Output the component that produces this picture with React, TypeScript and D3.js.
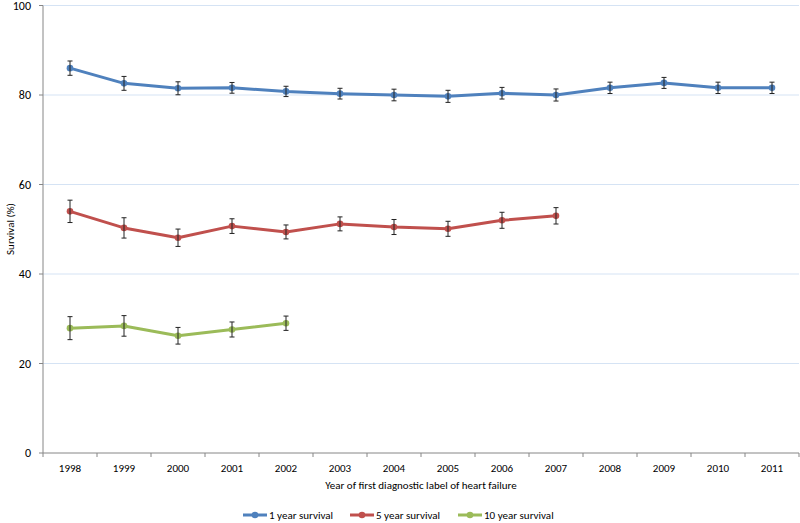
import React from "react";
import * as d3 from "d3";

const years = ["1998","1999","2000","2001","2002","2003","2004","2005","2006","2007","2008","2009","2010","2011"];
const oneYear = [86.0,82.6,81.5,81.6,80.8,80.3,80.0,79.7,80.4,80.0,81.6,82.7,81.6,81.6];
const oneYearErr = [1.6,1.55,1.45,1.2,1.15,1.2,1.3,1.35,1.3,1.35,1.27,1.23,1.27,1.27];
const fiveYear = [54.0,50.3,48.1,50.7,49.4,51.2,50.5,50.1,52.0,53.0];
const fiveYearErr = [2.5,2.27,1.94,1.64,1.56,1.56,1.68,1.68,1.79,1.83];
const tenYear = [27.9,28.4,26.2,27.6,29.0];
const tenYearErr = [2.57,2.3,1.86,1.68,1.6];
const yTicks = [0,20,40,60,80,100];
const seriesNames = ["1 year survival","5 year survival","10 year survival"];
const colors = ["#4F81BD","#C0504D","#9BBB59"];

const W = 800, H = 523;
const left = 43, right = 799, top = 5.5, bottom = 453;
const font = "Carlito, Calibri, 'Open Sans', 'Liberation Sans', sans-serif";

export default function App() {
  const x = d3.scaleBand().domain(years).range([left, right]).padding(0);
  const y = d3.scaleLinear().domain([0, 100]).range([bottom, top]);
  const cx = (i: number) => (x(years[i]) as number) + x.bandwidth() / 2;
  const series = [
    { vals: oneYear, errs: oneYearErr },
    { vals: fiveYear, errs: fiveYearErr },
    { vals: tenYear, errs: tenYearErr },
  ];
  const line = d3.line<number>().x((_, i) => cx(i)).y((v) => y(v));
  const legendX = [243, 350, 458];
  return (
    <svg width={W} height={H} style={{ position: "absolute", left: 0, top: 0, background: "#fff" }} fontFamily={font}>
      {yTicks.filter((t) => t > 0).map((t) => (
        <line key={"g" + t} x1={left} x2={right} y1={y(t)} y2={y(t)} stroke="#D5E3F4" strokeWidth={1} />
      ))}
      <line x1={left} x2={left} y1={top} y2={bottom} stroke="#868686" strokeWidth={1} />
      <line x1={left} x2={right} y1={bottom} y2={bottom} stroke="#868686" strokeWidth={1} />
      {yTicks.map((t) => (
        <g key={"yt" + t}>
          <line x1={left - 4} x2={left} y1={y(t)} y2={y(t)} stroke="#868686" />
          <text x={31} y={y(t)} dy="0.35em" textAnchor="end" fontSize={12} fill="#000">{t}</text>
        </g>
      ))}
      {d3.range(years.length + 1).map((i) => (
        <line key={"xt" + i} x1={left + i * x.bandwidth()} x2={left + i * x.bandwidth()} y1={bottom} y2={bottom + 4} stroke="#868686" />
      ))}
      {years.map((yr, i) => (
        <text key={yr} x={cx(i)} y={468} dy="0.35em" textAnchor="middle" fontSize={11} fill="#000">{yr}</text>
      ))}
      <text x={421} y={485} dy="0.35em" textAnchor="middle" fontSize={11} fill="#000">Year of first diagnostic label of heart failure</text>
      <text transform={`translate(10,229) rotate(-90)`} dy="0.35em" textAnchor="middle" fontSize={11} fill="#000">Survival (%)</text>
      {series.map((s, si) => (
        <g key={"s" + si}>
          <path d={line(s.vals) || ""} fill="none" stroke={colors[si]} strokeWidth={3} strokeLinejoin="round" />
          {s.vals.map((v, i) => (
            <circle key={i} cx={cx(i)} cy={y(v)} r={3.3} fill={colors[si]} />
          ))}
          {s.vals.map((v, i) => (
            <g key={"e" + i} stroke="#222" strokeWidth={1}>
              <line x1={cx(i)} x2={cx(i)} y1={y(v + s.errs[i])} y2={y(v - s.errs[i])} />
              <line x1={cx(i) - 2.5} x2={cx(i) + 2.5} y1={y(v + s.errs[i])} y2={y(v + s.errs[i])} />
              <line x1={cx(i) - 2.5} x2={cx(i) + 2.5} y1={y(v - s.errs[i])} y2={y(v - s.errs[i])} />
            </g>
          ))}
        </g>
      ))}
      {seriesNames.map((n, i) => (
        <g key={n}>
          <line x1={legendX[i]} x2={legendX[i] + 24} y1={515} y2={515} stroke={colors[i]} strokeWidth={3} />
          <circle cx={legendX[i] + 12} cy={515} r={3.3} fill={colors[i]} />
          <text x={legendX[i] + 26} y={515} dy="0.35em" fontSize={11} fill="#000">{n}</text>
        </g>
      ))}
    </svg>
  );
}
